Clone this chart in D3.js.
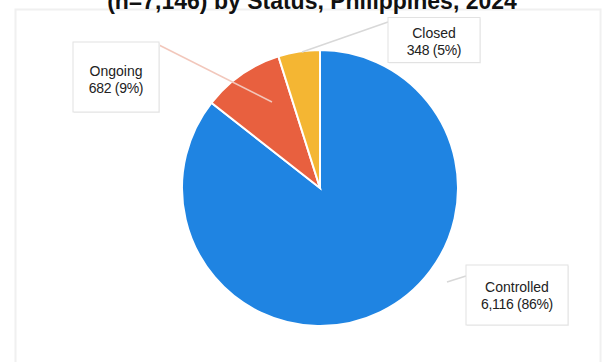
<!DOCTYPE html>
<html>
<head>
<meta charset="utf-8">
<script src="https://cdn.jsdelivr.net/npm/d3@7"></script>
<style>
  html, body { margin: 0; padding: 0; background: #fff; }
  svg { display: block; font-family: Arial, "Liberation Sans", sans-serif; }
</style>
</head>
<body>
<div id="chart"></div>
<script>
// chart data
const statuses = ['Controlled', 'Ongoing', 'Closed']
const counts = [6116, 682, 348]
const shares = ['86%', '9%', '5%']
const colors = ['#1f84e2', '#e8603f', '#f4b633']
const title = '(n=7,146) by Status, Philippines, 2024'

const width = 609
const height = 362
const cx = 320
const cy = 188
const radius = 138

// label boxes (centre of box) and leader anchors
const boxes = [
  { x: 517, y: 295, w: 102, h: 60, dy: 0, lineFrom: [447, 282], lineTo: [466, 276] },
  { x: 116, y: 77, w: 86, h: 70, dy: 2, lineFrom: [272, 102], lineTo: [159, 45] },
  { x: 434, y: 40, w: 92, h: 45, dy: 1, lineFrom: [302, 52], lineTo: [388, 22] }
]

const svg = d3.select('#chart')
  .append('svg')
  .attr('width', width)
  .attr('height', height)

// faint outer frame
svg.append('rect')
  .attr('x', 15.5)
  .attr('y', 9.5)
  .attr('width', 585)
  .attr('height', 370)
  .attr('fill', 'none')
  .attr('stroke', '#f0f0f0')
  .attr('stroke-width', 2)

// title (top clipped like the source)
svg.append('text')
  .attr('x', 312)
  .attr('y', 9)
  .attr('text-anchor', 'middle')
  .attr('font-size', 23)
  .attr('font-weight', 'bold')
  .attr('fill', '#111')
  .text(title)

const pie = d3.pie().sort(null).value(d => d)
const arc = d3.arc().innerRadius(0).outerRadius(radius)
const arcs = pie(counts)

const g = svg.append('g').attr('transform', `translate(${cx},${cy})`)

g.selectAll('path.slice')
  .data(arcs)
  .join('path')
  .attr('class', 'slice')
  .attr('d', arc)
  .attr('fill', (d, i) => colors[i])
  .attr('stroke', '#fff')
  .attr('stroke-width', 2)

// leader lines
svg.selectAll('line.leader')
  .data(boxes)
  .join('line')
  .attr('class', 'leader')
  .attr('x1', d => d.lineFrom[0])
  .attr('y1', d => d.lineFrom[1])
  .attr('x2', d => d.lineTo[0])
  .attr('y2', d => d.lineTo[1])
  .attr('stroke', (d, i) => i === 1 ? '#f2c7bb' : '#d8d8d8')
  .attr('stroke-width', 1.5)

// label boxes
const lbl = svg.selectAll('g.label')
  .data(boxes)
  .join('g')
  .attr('class', 'label')
  .attr('transform', d => `translate(${d.x},${d.y})`)

lbl.append('rect')
  .attr('x', d => -d.w / 2 + 1)
  .attr('y', d => -d.h / 2 + 1)
  .attr('width', d => d.w)
  .attr('height', d => d.h)
  .attr('fill', '#f3f3f3')

lbl.append('rect')
  .attr('x', d => -d.w / 2)
  .attr('y', d => -d.h / 2)
  .attr('width', d => d.w)
  .attr('height', d => d.h)
  .attr('fill', '#fff')
  .attr('stroke', '#e2e2e2')

lbl.append('text')
  .attr('text-anchor', 'middle')
  .attr('y', d => -3 + d.dy)
  .attr('font-size', 14)
  .attr('fill', '#222')
  .text((d, i) => statuses[i])

lbl.append('text')
  .attr('text-anchor', 'middle')
  .attr('y', d => 14 + d.dy)
  .attr('font-size', 14)
  .attr('letter-spacing', -0.3)
  .attr('fill', '#222')
  .text((d, i) => `${d3.format(',')(counts[i])} (${shares[i]})`)
</script>
</body>
</html>
